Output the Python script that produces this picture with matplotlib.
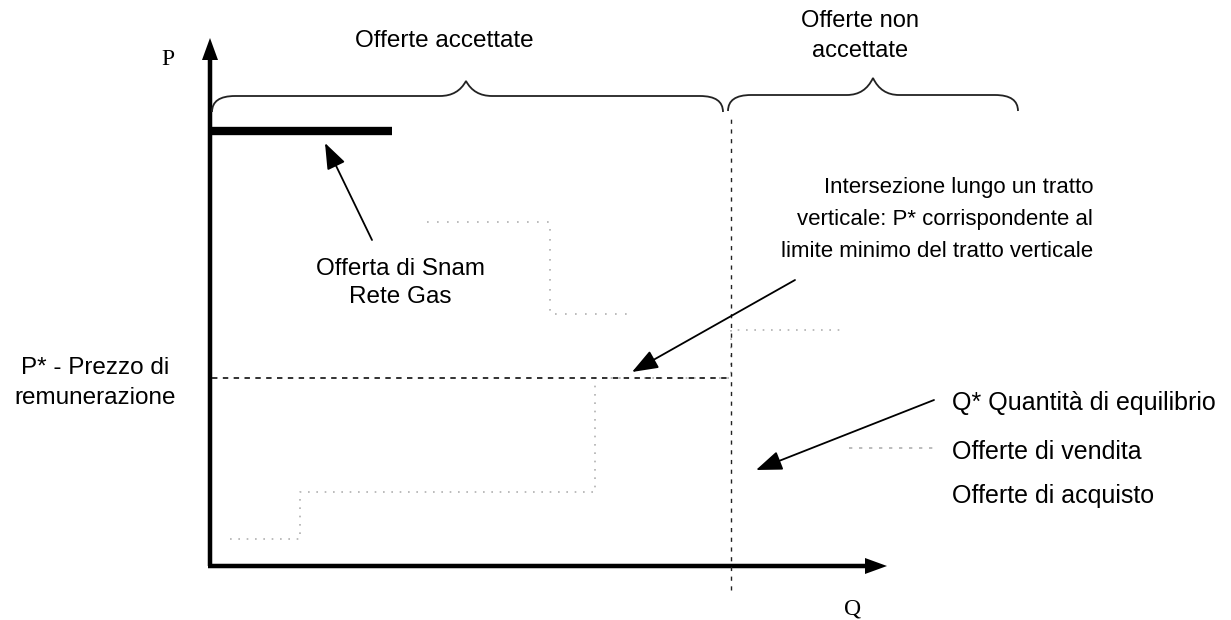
#!/usr/bin/env python
# -*- coding: utf-8 -*-

# Schematic of the gas balancing market: accepted / not accepted offers
# Units: 1 unit = 1 pixel, origin in the corner of the P/Q axes

import matplotlib.pyplot as plt
from matplotlib.path import Path
from matplotlib.patches import PathPatch

############# Data ##############

p_star = 188          # clearing price P*
q_star = 519          # equilibrium quantity Q*
snam_price = 435      # Snam Rete Gas offer
snam_qty = 180

# sell offers (step curve)
sell_q = [18, 88, 88, 383, 383, 519, 519, 628]
sell_p = [27, 27, 74, 74, 188, 188, 236, 236]

# buy offers (visible part of the step curve)
buy_q = [215, 338, 338, 415]
buy_p = [344, 344, 252, 252]

# braces: (start, cusp, end)
brace_ok = (0, 254, 511)
brace_no = (516, 661, 806)

q_max = 675
p_max = 528

#################################

plt.rcParams['font.family'] = ['Liberation Sans', 'DejaVu Sans']

fig = plt.figure(figsize=(12.31, 6.2), dpi=100)
ax = fig.add_axes([0, 0, 1, 1])
ax.set_xlim(-212, 1231 - 212)
ax.set_ylim(566 - 620, 566)
ax.axis('off')

# AXES WITH ARROWS
ax.arrow(-2, 0, 0, p_max, width=4.5, head_width=16, head_length=22,
         length_includes_head=True, color='black', lw=0)
ax.arrow(-4, 0, q_max + 4, 0, width=4.5, head_width=16, head_length=22,
         length_includes_head=True, color='black', lw=0)
ax.text(-44, 501, "P", family=['Liberation Serif'], fontsize=17, ha='center', va='baseline')
ax.text(641, -48, "Q", family=['Liberation Serif'], fontsize=17, ha='center', va='baseline')

# SNAM OFFER
ax.plot([0, snam_qty], [snam_price, snam_price], color='black', lw=6, solid_capstyle='butt')

# FAINT STEP CURVES
ax.plot(sell_q, sell_p, color='#b0b0b0', lw=1.2, ls=(0, (1, 4)))
ax.plot(buy_q, buy_p, color='#b0b0b0', lw=1.2, ls=(0, (1, 5)))

# P* AND Q* DASHED LINES
ax.plot([0, q_star], [p_star, p_star], color='#222222', lw=1.3, ls=(0, (3, 3)))
ax.plot([q_star, q_star], [-24, 451], color='#222222', lw=1.0, ls=(0, (3, 4)))

# BRACES
def brace(x0, xc, x1, y, h=16, tip=15):
    verts = [(x0, y - h), (x0, y), (x0 + 23, y),
             (xc - 26, y),
             (xc - 8, y), (xc, y + tip),
             (xc + 8, y), (xc + 26, y),
             (x1 - 23, y),
             (x1, y), (x1, y - h)]
    codes = [Path.MOVETO, Path.CURVE3, Path.CURVE3,
             Path.LINETO,
             Path.CURVE3, Path.CURVE3,
             Path.CURVE3, Path.CURVE3,
             Path.LINETO,
             Path.CURVE3, Path.CURVE3]
    ax.add_patch(PathPatch(Path(verts, codes), fill=False, color='#222222', lw=1.3))

brace(brace_ok[0], brace_ok[1], brace_ok[2], 470)
brace(brace_no[0], brace_no[1], brace_no[2], 471, tip=17)

ax.text(232, 519, "Offerte accettate", fontsize=17.5, ha='center', va='baseline')
ax.text(648, 539, "Offerte non", fontsize=17, ha='center', va='baseline')
ax.text(648, 509, "accettate", fontsize=17, ha='center', va='baseline')

# ANNOTATIONS
arrow = dict(arrowstyle='-|>,head_length=0.8,head_width=0.3', lw=1.3, color='black',
             mutation_scale=20, shrinkA=0, shrinkB=0)
ax.annotate('', xy=(113, 423), xytext=(160, 326), arrowprops=arrow)
ax.annotate('', xy=(420, 194), xytext=(583, 286), arrowprops=arrow)
ax.annotate('', xy=(544, 96), xytext=(722, 166), arrowprops=arrow)

ax.text(188, 291, "Offerta di Snam", fontsize=17.5, ha='center', va='baseline')
ax.text(188, 263, "Rete Gas", fontsize=17.5, ha='center', va='baseline')

ax.text(881, 373, "Intersezione lungo un tratto", fontsize=16, ha='right', va='baseline')
ax.text(881, 341, "verticale: P* corrispondente al", fontsize=16, ha='right', va='baseline')
ax.text(881, 309, "limite minimo del tratto verticale", fontsize=16, ha='right', va='baseline')

ax.text(-117, 192, "P* - Prezzo di", fontsize=17.5, ha='center', va='baseline')
ax.text(-117, 162, "remunerazione", fontsize=17.5, ha='center', va='baseline')

# LEGEND
ax.plot([637, 722], [118, 118], color='#b0b0b0', lw=1.2, ls=(0, (2, 4)))
ax.text(740, 156, "Q* Quantità di equilibrio", fontsize=18, ha='left', va='baseline')
ax.text(740, 107, "Offerte di vendita", fontsize=18, ha='left', va='baseline')
ax.text(740, 63, "Offerte di acquisto", fontsize=18, ha='left', va='baseline')

plt.savefig("out.png", dpi=100)
